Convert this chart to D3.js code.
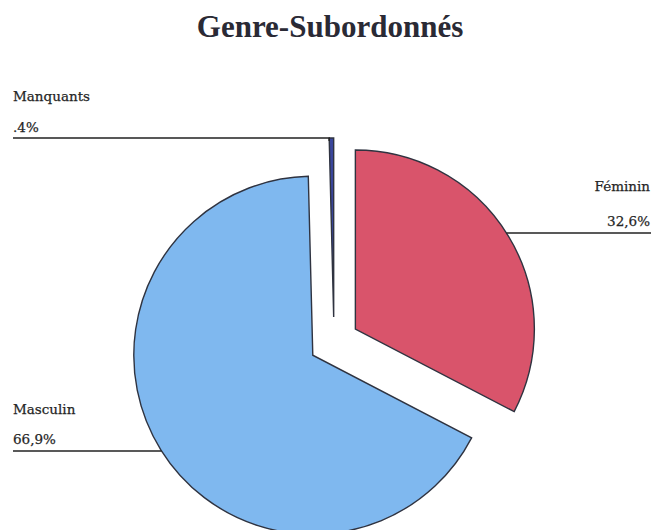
<!DOCTYPE html>
<html>
<head>
<meta charset="utf-8">
<script src="https://cdn.jsdelivr.net/npm/d3@7/dist/d3.min.js"></script>
<style>
  html, body { margin: 0; padding: 0; background: #ffffff; }
  svg { display: block; }
</style>
</head>
<body>
<svg id="chart" width="651" height="530"></svg>
<script>
// ---- data ----
const title = "Genre-Subordonnés";
const categories = ["Féminin", "Masculin", "Manquants"];
const values = [32.6, 66.9, 0.4];
const valueLabels = ["32,6%", "66,9%", ".4%"];
const colors = ["#d9546b", "#7fb8ef", "#3a469c"];

// ---- layout ----
const W = 651, H = 530;
const cx = 334, cy = 342, R = 179, explode = 25;

const svg = d3.select("#chart");

svg.append("text")
  .attr("x", 330).attr("y", 37)
  .attr("text-anchor", "middle")
  .attr("font-family", "'Liberation Serif', serif")
  .attr("font-weight", "bold")
  .attr("font-size", 31)
  .attr("fill", "#2a2a35")
  .text(title);

const pie = d3.pie().sort(null).value(d => d)(values);
const arc = d3.arc().innerRadius(0).outerRadius(R);

const slices = pie.map((p, i) => {
  const mid = (p.startAngle + p.endAngle) / 2;
  const ox = cx + explode * Math.sin(mid);
  const oy = cy - explode * Math.cos(mid);
  return { p, i, ox, oy };
});

svg.selectAll("path.slice")
  .data(slices)
  .enter().append("path")
  .attr("class", "slice")
  .attr("transform", d => `translate(${d.ox},${d.oy})`)
  .attr("d", d => arc(d.p))
  .attr("fill", d => colors[d.i])
  .attr("stroke", "#2f3340")
  .attr("stroke-width", 1.4)
  .attr("stroke-linejoin", "miter");

// leader lines + labels
const labelFont = "'DejaVu Serif', serif";
const labelSize = 13.5;
function xOnArc(s, y, side) {
  const dy = y - s.oy;
  const dx = Math.sqrt(Math.max(0, R * R - dy * dy));
  return s.ox + side * dx;
}
function label(x, y, txt, anchor) {
  svg.append("text").attr("x", x).attr("y", y)
    .attr("text-anchor", anchor || "start")
    .attr("font-family", labelFont).attr("font-size", labelSize)
    .attr("fill", "#262626")
    .attr("stroke", "#262626").attr("stroke-width", 0.25)
    .text(txt);
}

const fem = slices[0], mas = slices[1], man = slices[2];

// Féminin (right side)
const fy = 233;
svg.append("line")
  .attr("x1", xOnArc(fem, fy, 1)).attr("y1", fy)
  .attr("x2", W).attr("y2", fy)
  .attr("stroke", "#222").attr("stroke-width", 1.5);
label(650, 191, categories[0], "end");
label(650, 226, valueLabels[0], "end");

// Masculin (left side)
const my = 451;
svg.append("line")
  .attr("x1", 13).attr("y1", my)
  .attr("x2", xOnArc(mas, my, -1)).attr("y2", my)
  .attr("stroke", "#222").attr("stroke-width", 1.5);
label(13, 414, categories[1]);
label(13, 444, valueLabels[1]);

// Manquants (top-left)
const topY = man.oy - R;
const topX = man.ox + R * Math.sin(man.p.startAngle);
svg.append("polyline")
  .attr("points", `13,${topY} ${topX},${topY} ${topX},${topY + 3}`)
  .attr("fill", "none")
  .attr("stroke", "#222").attr("stroke-width", 1.5);
label(13, 101, categories[2]);
label(13, 132, valueLabels[2]);
</script>
</body>
</html>
